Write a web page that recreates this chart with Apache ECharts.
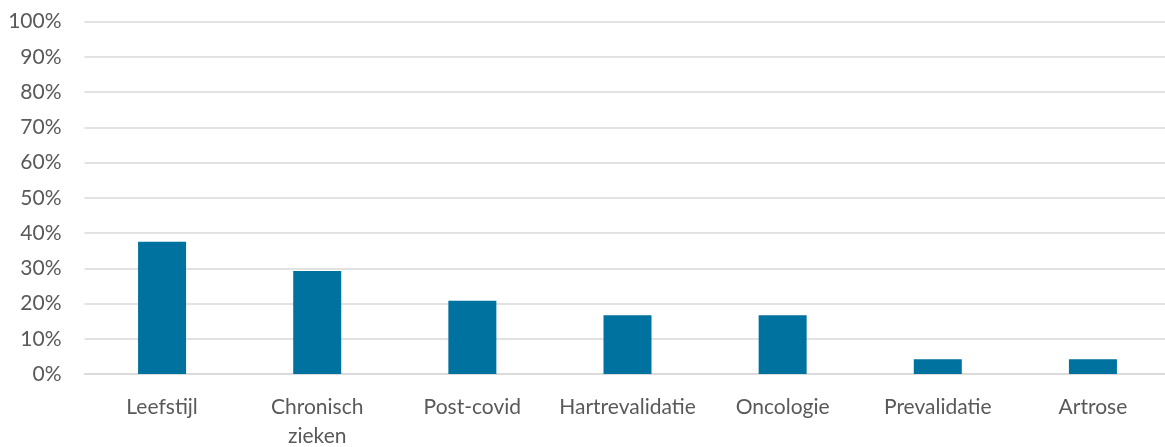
<!DOCTYPE html>
<html>
<head>
<meta charset="utf-8">
<script src="https://cdn.jsdelivr.net/npm/echarts@6/dist/echarts.min.js"></script>
<style>
  html, body { margin: 0; padding: 0; background: #ffffff; overflow: hidden; }
  #chart { width: 1165px; height: 447px; }
</style>
</head>
<body>
<div id="chart"></div>
<script>
// Share of participants per programme type (%)
const categories = ['Leefstijl', 'Chronisch\nzieken', 'Post-covid', 'Hartrevalidatie', 'Oncologie', 'Prevalidatie', 'Artrose'];
const shares = [37.5, 29.2, 20.8, 16.7, 16.7, 4.2, 4.2];
const yTicks = [0, 10, 20, 30, 40, 50, 60, 70, 80, 90, 100];

const textColor = '#595959';
const fontFamily = 'Lato, "Open Sans", sans-serif';

const chart = echarts.init(document.getElementById('chart'), null, { renderer: 'canvas' });
chart.setOption({
  animation: false,
  grid: {
    left: 84.5, top: 21.5, width: 1086, height: 352.5,
    containLabel: false, outerBoundsMode: 'none'
  },
  xAxis: {
    type: 'category',
    data: categories,
    axisLine: { show: true, lineStyle: { color: '#D9D9D9', width: 1.5 } },
    axisTick: { show: false },
    axisLabel: {
      color: textColor, fontSize: 21, fontFamily: fontFamily,
      margin: 19, lineHeight: 29, interval: 0
    }
  },
  yAxis: {
    type: 'value',
    min: yTicks[0],
    max: yTicks[yTicks.length - 1],
    interval: 10,
    axisLine: { show: false },
    axisTick: { show: false },
    splitLine: { lineStyle: { color: '#D9D9D9', width: 1.5 } },
    axisLabel: {
      color: textColor, fontSize: 21, fontFamily: fontFamily, margin: 23,
      formatter: v => v + '%'
    }
  },
  series: [{
    type: 'bar',
    data: shares,
    barWidth: 48,
    itemStyle: { color: '#00729F' }
  }]
});
</script>
</body>
</html>
